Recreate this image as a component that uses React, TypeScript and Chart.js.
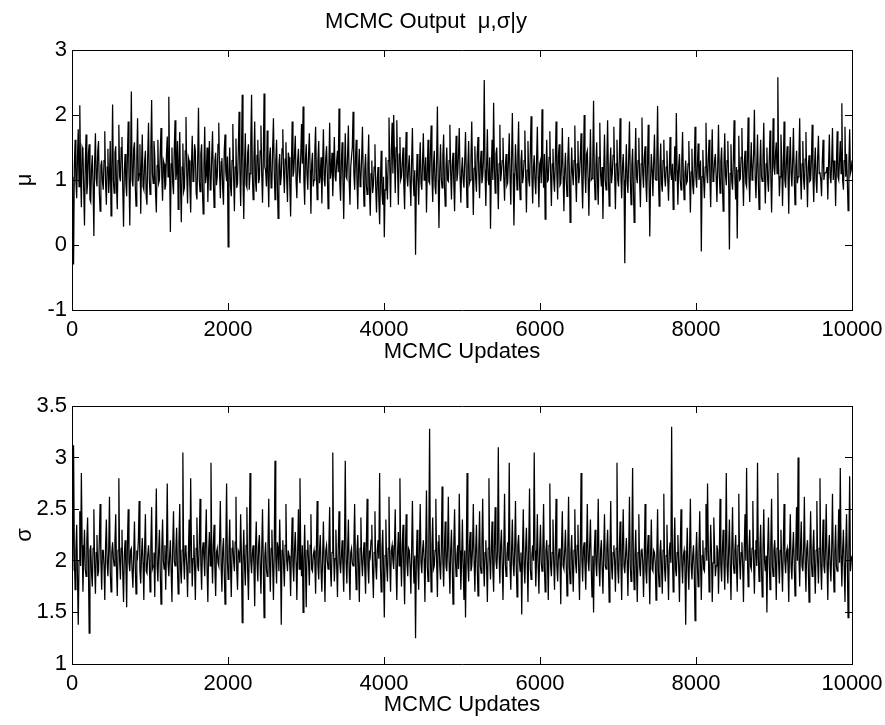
import React, { useEffect, useRef } from 'react';
import { Chart, registerables } from 'chart.js';

Chart.register(...registerables);

const FONT_FAMILY = "'Liberation Sans', Arial, Helvetica, sans-serif";

const TITLE = 'MCMC Output  μ,σ|y';
const X_LABEL = 'MCMC Updates';
const MU_LABEL = 'μ';
const SIGMA_LABEL = 'σ';
const N_UPDATES = 10000;
const X_TICKS = [0, 2000, 4000, 6000, 8000, 10000];
const MU_TICKS = [-1, 0, 1, 2, 3];
const SIGMA_TICKS = [1, 1.5, 2, 2.5, 3, 3.5];

// Thinned trace of mu (every ~10 updates)
const MU = [
  1.05,0.8,-0.3,1.2,1.62,1.0,0.72,1.35,1.78,0.9,2.15,1.1,0.58,1.5,1.45,0.85,0.3,1.25,1.7,0.78,0.95,1.4,1.55,0.7,0.66,1.18,1.38,0.92,0.14,1.28,1.72,1.02,0.9,1.45,1.6,0.82,0.52,1.22,1.3,0.98,
  0.85,1.3,1.75,0.95,0.62,1.2,1.48,0.8,1.05,1.6,0.45,1.15,2.16,1.0,0.8,1.42,1.52,0.9,0.55,1.3,1.85,1.05,0.98,1.5,1.66,0.88,0.28,1.12,1.4,0.95,0.75,1.38,1.9,1.08,0.3,1.25,2.36,1.0,0.9,1.48,
  1.58,0.92,0.6,1.35,1.95,0.98,1.1,1.55,0.48,1.2,1.7,0.9,0.85,1.28,1.45,0.75,0.62,1.4,1.88,1.02,0.78,1.5,2.23,1.1,0.95,1.6,1.36,0.8,0.5,1.22,1.62,0.95,1.0,1.42,1.8,1.05,0.68,1.3,1.25,0.85,
  0.92,1.4,1.67,1.05,2.28,1.15,0.2,1.25,1.5,0.95,0.78,1.48,1.92,1.0,1.12,1.6,0.55,1.3,1.74,0.9,0.35,1.2,1.56,0.82,0.88,1.45,1.97,1.08,0.64,1.35,1.3,0.9,0.5,1.25,1.68,0.98,1.02,1.55,1.45,0.8,
  0.7,1.32,2.11,1.0,0.82,1.4,1.55,0.88,0.48,1.25,1.82,0.95,1.08,1.5,0.66,1.2,1.6,0.85,0.9,1.38,1.75,1.02,0.58,1.3,1.42,0.92,1.05,1.55,1.88,1.1,0.72,1.28,1.34,0.86,0.62,1.45,1.7,1.12,0.98,1.36,
  -0.03,1.1,1.5,0.9,0.75,1.3,1.86,1.05,0.52,1.2,1.64,0.88,0.95,1.45,2.05,1.15,0.6,1.35,2.31,1.0,0.4,1.25,1.72,0.92,0.88,1.42,1.55,0.85,1.1,1.6,2.31,1.08,0.7,1.3,1.9,1.0,0.82,1.38,1.62,0.95,
  1.02,1.45,1.84,1.1,0.65,1.3,2.33,1.2,1.15,0.9,1.76,1.05,0.58,1.35,1.5,0.88,0.92,1.5,1.95,1.15,0.7,1.28,1.62,0.95,0.41,1.22,1.4,0.92,1.05,1.48,1.78,1.12,0.8,1.32,1.58,1.0,0.66,1.42,1.35,0.9,
  0.44,1.2,1.9,1.05,1.12,1.4,1.68,0.98,0.72,1.3,1.48,1.1,0.95,1.38,1.86,1.25,2.13,1.0,0.62,1.32,1.55,1.08,0.85,1.4,1.72,1.15,0.48,1.25,1.42,0.9,1.0,1.45,1.82,1.12,0.7,1.3,1.6,0.95,1.08,1.35,
  0.64,1.25,1.78,1.0,0.9,1.35,1.52,1.1,0.56,1.2,1.88,1.02,1.15,1.42,0.75,1.18,1.66,1.05,0.98,1.3,1.45,1.12,2.1,0.95,0.68,1.28,1.58,1.0,0.4,1.15,1.72,1.05,1.02,1.4,1.84,0.98,0.62,1.2,1.36,1.5,
  2.05,1.1,0.85,1.3,1.62,0.98,0.55,1.2,1.48,0.9,1.0,1.35,1.82,1.05,0.6,1.15,1.4,0.92,0.78,1.25,1.7,0.85,0.45,1.1,1.3,0.8,0.92,1.2,1.55,0.88,0.5,1.02,1.2,0.7,0.32,0.95,1.45,0.8,0.62,1.05,
  0.12,0.85,1.35,1.0,0.7,1.3,1.96,1.2,0.58,1.45,1.88,1.1,2.0,1.35,0.8,1.5,1.92,1.15,0.62,1.4,1.66,1.0,1.05,1.28,1.5,0.92,0.55,1.25,1.74,1.05,0.9,1.2,1.38,0.95,0.6,1.3,1.8,1.0,0.75,1.15,
  -0.15,0.9,1.4,1.05,0.62,1.2,1.58,0.95,0.85,1.3,1.72,1.0,1.1,1.35,0.5,1.1,1.62,0.98,0.95,1.4,1.84,1.05,0.66,1.25,1.45,0.9,0.78,1.32,2.13,1.0,0.26,1.15,1.55,1.02,0.88,1.38,1.7,0.95,0.6,1.2,
  1.5,1.0,0.98,1.3,1.85,1.1,0.7,1.25,1.42,0.95,0.52,1.2,1.68,0.98,1.1,1.4,1.8,1.05,0.65,1.15,1.35,1.0,0.88,1.3,1.74,1.08,0.58,1.22,1.6,0.95,1.0,1.35,1.9,1.1,0.46,1.18,1.52,1.02,0.82,1.4,
  1.66,1.1,0.72,1.25,1.45,0.95,1.05,1.3,2.54,1.15,0.6,1.2,1.78,1.0,0.92,1.35,0.25,1.1,1.62,1.0,2.19,1.2,0.8,1.4,1.5,1.05,0.55,1.25,1.85,0.98,1.12,1.3,1.65,1.05,0.68,1.2,1.4,0.92,0.96,1.3,
  1.72,1.05,0.62,1.35,2.03,1.1,0.3,1.0,1.55,1.2,0.85,1.4,1.9,1.02,0.7,1.28,1.46,0.95,1.05,1.3,1.76,1.12,0.5,1.15,1.6,1.0,0.9,1.45,1.98,1.08,0.64,1.2,1.38,0.98,0.78,1.3,1.82,1.05,0.58,1.25,
  1.3,0.95,2.09,1.2,0.88,1.4,0.4,1.1,1.62,0.98,1.0,1.35,1.75,1.08,0.6,1.25,1.48,1.0,0.82,1.3,1.9,1.1,0.7,1.38,1.55,0.92,0.95,1.22,1.8,1.05,0.52,1.15,1.42,1.0,0.75,1.3,1.66,1.12,0.35,1.0,
  1.5,1.1,0.92,1.3,1.84,1.05,0.66,1.25,1.6,0.95,1.08,1.35,1.72,1.0,0.56,1.2,2.0,1.1,0.8,1.4,1.45,1.02,0.45,1.15,1.78,1.0,1.02,1.3,2.22,1.05,0.7,1.22,1.58,0.98,0.62,1.35,1.88,1.08,0.9,1.2,
  0.4,1.15,1.7,1.0,0.85,1.3,1.92,1.05,0.6,1.2,1.5,0.95,1.1,1.38,1.82,1.1,0.55,1.25,1.62,1.0,0.9,1.32,1.95,1.08,0.72,1.2,1.4,1.0,-0.28,1.1,1.55,0.98,0.8,1.35,1.9,1.05,0.62,1.22,1.48,0.9,
  0.35,1.2,1.8,1.05,0.95,1.3,1.65,1.0,0.58,1.25,1.96,1.1,0.88,1.35,1.52,0.98,0.66,1.2,1.85,1.05,0.13,1.0,1.4,1.15,0.75,1.28,1.7,1.02,1.0,1.3,2.14,1.1,0.6,1.2,1.56,0.95,0.82,1.3,1.62,1.05,
  0.9,1.2,1.45,1.0,0.68,1.15,1.66,1.1,1.0,1.25,0.55,1.05,1.52,0.98,2.03,1.15,0.62,1.2,1.4,1.0,0.85,1.3,1.74,1.05,0.7,1.1,1.3,0.95,0.98,1.25,1.6,1.08,0.5,1.12,1.48,0.92,0.78,1.22,1.82,1.05,
  0.88,1.25,1.56,1.0,1.1,1.3,-0.1,1.05,1.46,1.0,0.72,1.2,1.88,1.1,0.95,1.35,1.62,1.02,0.58,1.25,1.78,0.98,1.05,1.3,1.4,1.05,0.66,1.2,1.85,1.1,0.8,1.28,1.5,0.95,0.52,1.22,1.72,1.08,0.92,1.3,
  1.6,1.0,-0.07,1.1,1.55,0.98,0.85,1.3,1.92,1.05,0.7,1.2,0.1,1.15,1.68,1.0,1.02,1.35,1.8,1.1,0.6,1.25,1.45,0.95,0.9,1.3,1.96,1.05,0.66,1.2,1.58,1.0,1.12,1.4,2.08,1.05,0.72,1.2,1.7,1.0,
  0.55,1.2,1.62,1.05,0.98,1.35,1.88,1.1,0.64,1.25,1.5,1.0,0.82,1.3,1.76,1.08,0.5,1.15,1.95,1.2,1.08,1.4,1.58,1.1,2.58,1.25,0.75,1.05,1.7,1.3,0.6,1.15,1.9,1.0,0.88,1.28,1.52,1.1,0.48,1.3,
  1.66,1.1,0.9,1.3,1.8,1.05,0.62,1.2,1.45,0.95,1.05,1.35,1.95,1.1,0.7,1.25,1.6,1.0,0.85,1.32,1.74,1.08,0.58,1.2,1.38,0.98,1.0,1.3,1.85,1.05,0.66,1.22,1.5,1.0,0.8,1.35,1.68,1.1,1.12,1.0,
  0.75,1.3,1.62,1.0,1.1,1.11,1.12,1.2,0.7,1.25,1.7,1.05,0.95,1.3,1.8,1.0,1.3,1.15,0.6,1.2,1.75,1.05,1.0,1.3,1.6,1.1,2.18,1.0,0.85,1.3,1.82,1.05,1.4,1.0,0.53,1.25,1.78,1.1,1.15,1.3,
];

// Thinned trace of sigma (every ~10 updates)
const SIGMA = [
  2.2,1.9,3.12,2.05,1.72,2.1,2.35,1.85,1.38,2.0,2.48,1.95,2.85,2.15,1.7,2.05,2.3,1.92,1.85,2.2,2.42,1.98,1.3,2.1,2.15,1.88,1.75,2.12,2.5,1.95,1.68,2.08,2.25,1.85,1.9,2.2,2.55,2.0,1.72,2.1,
  2.1,1.95,1.62,2.15,2.4,1.98,1.85,2.1,2.62,1.9,1.7,2.08,2.18,2.02,1.95,2.2,2.45,1.92,1.66,2.1,2.8,2.0,1.82,2.12,2.3,1.88,1.6,2.05,2.2,1.95,1.55,2.18,2.5,1.98,1.9,2.1,2.12,1.9,1.74,2.05,
  2.38,1.95,1.68,2.1,2.05,2.2,2.58,1.9,1.78,2.05,2.22,1.98,1.62,2.12,2.45,1.9,1.88,2.05,2.15,2.0,1.7,2.15,2.52,1.92,1.95,2.08,1.65,2.2,2.7,1.95,1.8,2.1,2.3,1.9,1.58,2.12,2.4,2.0,1.92,2.15,
  1.72,2.1,2.75,1.98,1.85,2.05,2.2,1.9,1.6,2.15,2.48,2.0,1.95,2.1,2.32,1.95,1.68,2.2,2.55,1.92,1.78,2.1,3.05,2.0,1.82,2.15,2.1,1.95,1.65,2.05,2.4,1.88,2.8,2.1,1.75,2.02,2.25,1.95,1.62,2.12,
  2.42,1.95,1.9,2.15,2.6,1.98,1.72,2.1,2.18,2.02,1.85,2.2,2.5,1.9,1.6,2.1,2.28,1.95,2.95,2.05,1.78,2.15,2.35,1.92,1.66,2.08,2.12,1.98,1.95,2.2,2.58,1.95,1.7,2.1,2.22,1.9,1.58,2.15,2.75,2.0,
  1.82,2.1,2.4,1.95,1.65,2.12,2.2,2.0,1.9,2.18,2.62,1.92,1.72,2.1,2.08,1.98,2.45,2.05,1.4,2.0,2.3,1.95,1.76,2.15,2.52,1.9,1.62,2.1,2.85,2.0,1.88,2.08,2.15,1.95,1.56,2.12,2.38,1.98,1.8,2.15,
  2.25,1.95,1.68,2.1,2.5,1.98,1.45,2.05,2.18,1.92,1.85,2.15,2.6,2.0,1.7,2.12,2.3,1.95,1.62,2.1,2.97,2.02,1.78,2.18,2.12,1.9,2.4,2.05,1.38,2.1,2.2,1.95,1.75,2.15,2.55,2.0,1.9,2.1,2.05,1.95,
  1.66,2.1,2.42,1.95,1.8,2.12,2.28,1.98,1.62,2.08,2.5,1.92,2.8,2.05,1.85,2.15,1.5,2.0,2.35,1.95,1.55,2.1,2.2,1.98,1.76,2.15,2.45,1.92,1.9,2.05,2.1,2.0,1.68,2.12,2.58,1.95,1.82,2.1,2.25,1.9,
  1.7,2.05,2.38,1.95,1.6,2.1,2.15,2.0,1.92,2.15,2.52,1.92,1.75,2.08,3.05,2.1,1.8,2.02,2.3,1.95,1.65,2.12,2.48,1.98,1.88,2.05,2.2,1.95,1.7,2.15,2.97,2.0,1.78,2.1,2.4,1.9,1.62,2.08,2.12,1.98,
  1.95,2.15,2.55,1.98,1.72,2.1,2.25,1.95,1.6,2.12,2.42,2.0,1.85,2.05,2.18,1.92,1.68,2.15,2.6,1.95,1.78,2.1,2.05,2.2,2.35,1.9,1.64,2.08,2.48,1.95,1.82,2.1,2.2,2.02,2.85,1.95,1.7,2.12,2.3,1.9,
  1.45,2.05,2.4,1.95,1.8,2.12,2.62,1.98,1.7,2.1,2.15,2.0,1.92,2.15,2.5,1.92,1.62,2.08,2.28,1.95,2.8,2.05,1.75,2.15,2.35,1.9,1.58,2.1,2.45,1.98,1.85,2.12,2.1,1.95,1.68,2.1,2.58,2.0,1.78,2.05,
  1.25,2.0,2.3,1.95,1.72,2.15,2.55,1.98,1.88,2.1,2.2,2.02,1.6,2.12,2.68,1.95,1.8,2.2,3.28,2.05,1.7,2.15,2.42,1.92,1.95,2.1,2.6,2.0,1.65,2.18,2.25,1.95,1.82,2.1,2.72,2.0,1.75,2.12,2.38,1.95,
  1.9,2.12,2.62,1.98,1.68,2.1,2.3,1.95,1.58,2.15,2.5,2.02,1.85,2.05,2.15,1.92,2.65,2.1,1.72,2.0,2.4,1.95,1.62,2.1,1.45,2.05,2.85,1.98,1.8,2.15,2.28,1.9,1.95,2.12,2.55,2.0,1.7,2.1,2.35,1.95,
  1.66,2.1,2.48,1.95,1.88,2.15,2.6,2.0,1.75,2.08,2.2,1.95,1.6,2.12,2.8,2.02,1.82,2.1,2.38,1.92,1.7,2.15,2.52,2.0,1.92,2.1,3.1,2.05,1.78,2.15,2.3,1.95,1.62,2.1,2.65,1.98,1.85,2.05,2.18,2.0,
  2.95,1.95,1.72,2.1,2.4,1.98,1.85,2.12,2.58,1.95,1.65,2.15,2.25,2.0,1.9,2.08,1.48,2.1,2.5,1.95,1.78,2.12,2.32,1.98,1.6,2.15,2.7,1.92,1.82,2.05,2.15,2.0,3.05,2.1,1.75,2.02,2.45,1.95,1.68,2.1,
  2.35,1.98,1.9,2.12,2.55,1.95,1.7,2.1,2.2,2.0,1.62,2.15,2.75,1.95,1.85,2.08,2.4,1.98,1.72,2.12,2.6,1.95,1.8,2.05,2.12,2.0,1.58,2.15,2.48,1.95,1.92,2.1,2.3,1.98,1.66,2.12,2.62,1.95,1.78,2.08,
  2.25,1.95,1.7,2.1,2.5,1.98,1.88,2.15,2.35,1.92,1.62,2.1,2.85,2.02,1.8,2.12,2.18,1.95,1.72,2.1,2.55,2.0,1.9,2.15,2.4,1.95,1.65,2.05,1.5,2.1,2.3,1.98,1.85,2.12,2.6,1.95,1.75,2.1,2.2,1.92,
  1.68,2.1,2.45,1.95,1.92,2.12,2.3,1.98,1.6,2.1,2.58,1.95,1.82,2.08,2.15,2.0,1.7,2.12,2.95,1.92,1.78,2.1,2.38,1.98,1.62,2.15,2.5,1.95,1.88,2.05,2.22,2.0,1.66,2.1,2.62,1.95,1.8,2.12,2.9,1.98,
  1.72,2.05,2.3,1.92,1.6,2.08,2.45,1.95,1.85,2.1,2.12,1.98,1.65,2.05,2.55,1.9,1.78,2.1,2.25,1.95,1.58,2.05,2.4,1.92,1.9,2.1,2.08,1.98,1.62,2.05,2.5,1.9,1.75,2.08,2.2,1.95,1.68,2.1,2.65,1.92,
  1.8,2.05,2.35,1.95,1.62,2.1,2.18,1.98,3.3,2.05,1.7,2.1,2.42,1.92,1.85,2.08,2.25,1.95,1.6,2.1,2.5,1.98,1.78,2.05,2.1,1.95,1.38,2.0,2.32,1.92,1.72,2.1,2.6,1.95,1.82,2.05,2.15,1.9,1.42,2.05,
  2.28,1.95,1.75,2.1,2.48,1.98,1.62,2.05,2.2,1.92,1.9,2.12,2.55,2.0,2.75,2.1,1.7,1.95,2.35,2.08,1.6,1.98,2.42,2.12,1.85,1.95,2.15,2.1,1.68,2.02,2.6,1.95,1.8,2.1,2.3,1.98,1.72,2.12,2.85,1.95,
  1.78,2.1,2.4,1.95,1.62,2.12,2.52,1.98,1.88,2.1,2.25,1.95,1.7,2.15,2.65,2.0,1.82,2.08,2.18,1.95,1.6,2.12,2.45,2.0,2.9,2.05,1.75,2.1,2.3,1.95,1.92,2.12,2.58,1.98,1.68,2.1,2.2,1.95,2.95,2.05,
  1.8,2.1,2.35,1.95,1.65,2.12,2.5,2.0,1.9,2.05,1.5,2.1,2.42,1.98,1.72,2.15,2.6,1.95,1.85,2.1,2.2,2.0,1.62,2.12,2.85,1.98,1.78,2.1,2.3,1.95,1.7,2.12,2.55,2.0,1.88,2.08,2.12,1.95,1.6,2.12,
  2.45,1.95,1.82,2.1,2.28,1.98,1.66,2.12,2.52,2.0,3.0,2.05,1.75,2.12,2.38,1.95,1.9,2.1,2.62,1.98,1.7,2.12,2.2,1.95,1.6,2.1,2.48,1.98,1.85,2.12,2.3,1.95,1.68,2.1,2.58,2.0,1.78,2.12,2.8,1.95,
  1.72,2.1,2.4,1.95,1.88,2.12,2.55,1.98,1.62,2.1,2.25,1.95,1.8,2.12,2.65,2.0,1.7,2.08,2.35,1.95,1.9,2.12,2.5,1.98,2.9,2.05,1.75,2.1,2.3,1.95,1.6,2.12,2.45,1.98,1.45,2.1,2.82,1.9,2.0,2.05,
];

const fmt = (v: number) => String(v);

type Props = {
  values: number[];
  yMin: number;
  yMax: number;
  yTicks: number[];
  yLabel: string;
  title?: string;
  top: number;
  height: number;
  padTop: number;
  xAxisHeight: number;
  xTickPad: number;
  xTitlePadBottom: number;
};

function TracePanel(p: Props) {
  const ref = useRef<HTMLCanvasElement | null>(null);
  useEffect(() => {
    if (!ref.current) return;
    const step = N_UPDATES / (p.values.length - 1);
    const pts = p.values.map((v, i) => ({ x: i * step, y: v }));
    const font = { family: FONT_FAMILY, size: 22, weight: 'normal' as const };
    const grid = {
      drawOnChartArea: false,
      drawTicks: true,
      tickLength: -7,
      color: '#000',
      lineWidth: 1,
    };
    const border = { display: true, color: '#000', width: 1 };
    const xTickSet = (s: any) => {
      s.ticks = X_TICKS.map((v) => ({ value: v }));
    };
    const yTickSet = (s: any) => {
      s.ticks = p.yTicks.map((v) => ({ value: v }));
    };
    const chart = new Chart(ref.current, {
      type: 'line',
      data: {
        datasets: [
          {
            data: pts,
            borderColor: '#000',
            borderWidth: 1.25,
            pointRadius: 0,
            tension: 0,
            fill: false,
            xAxisID: 'x',
            yAxisID: 'y',
          },
        ],
      },
      options: {
        animation: false,
        responsive: false,
        devicePixelRatio: 1,
        events: [],
        layout: { padding: { left: 0, right: 33, top: p.padTop, bottom: 0 } },
        plugins: {
          legend: { display: false },
          tooltip: { enabled: false },
          title: {
            display: !!p.title,
            text: p.title || '',
            color: '#000',
            font,
            padding: { top: 8.5, bottom: 15.1 },
          },
        },
        scales: {
          x: {
            type: 'linear',
            position: 'bottom',
            min: 0,
            max: N_UPDATES,
            afterBuildTicks: xTickSet,
            ticks: { color: '#000', font, padding: p.xTickPad, maxRotation: 0, autoSkip: false, callback: (v: any) => fmt(v) },
            grid,
            border,
            title: { display: true, text: X_LABEL, color: '#000', font, padding: { top: 0, bottom: p.xTitlePadBottom } },
            afterFit: (s: any) => {
              s.height = p.xAxisHeight;
              s.paddingLeft = 0;
              s.paddingRight = 0;
            },
          },
          x2: {
            type: 'linear',
            position: 'top',
            min: 0,
            max: N_UPDATES,
            afterBuildTicks: xTickSet,
            ticks: { display: false },
            grid,
            border,
            afterFit: (s: any) => {
              s.height = 0;
              s.paddingLeft = 0;
              s.paddingRight = 0;
            },
          },
          y: {
            type: 'linear',
            position: 'left',
            min: p.yMin,
            max: p.yMax,
            afterBuildTicks: yTickSet,
            ticks: { color: '#000', font, padding: 12, autoSkip: false, callback: (v: any) => fmt(v) },
            grid,
            border,
            title: { display: true, text: p.yLabel, color: '#000', font, padding: { top: 12, bottom: 0 } },
            afterFit: (s: any) => {
              s.width = 72;
            },
          },
          y2: {
            type: 'linear',
            position: 'right',
            min: p.yMin,
            max: p.yMax,
            afterBuildTicks: yTickSet,
            ticks: { display: false },
            grid,
            border,
            afterFit: (s: any) => {
              s.width = 0;
            },
          },
        },
      } as any,
    });
    return () => chart.destroy();
  }, []);
  return (
    <canvas
      ref={ref}
      width={885}
      height={p.height}
      style={{ position: 'absolute', left: 0, top: p.top, width: 885, height: p.height, display: 'block' }}
    />
  );
}

export default function App() {
  return (
    <div style={{ position: 'absolute', left: 0, top: 0, width: 885, height: 725, background: '#fff', overflow: 'hidden' }}>
      <TracePanel
        values={MU}
        yMin={-1}
        yMax={3}
        yTicks={MU_TICKS}
        yLabel={MU_LABEL}
        title={TITLE}
        top={0}
        height={370}
        padTop={0}
        xAxisHeight={60}
        xTickPad={13.8}
        xTitlePadBottom={4.8}
      />
      <TracePanel
        values={SIGMA}
        yMin={1}
        yMax={3.5}
        yTicks={SIGMA_TICKS}
        yLabel={SIGMA_LABEL}
        top={370}
        height={355}
        padTop={36}
        xAxisHeight={61}
        xTickPad={13.3}
        xTitlePadBottom={6.8}
      />
    </div>
  );
}
